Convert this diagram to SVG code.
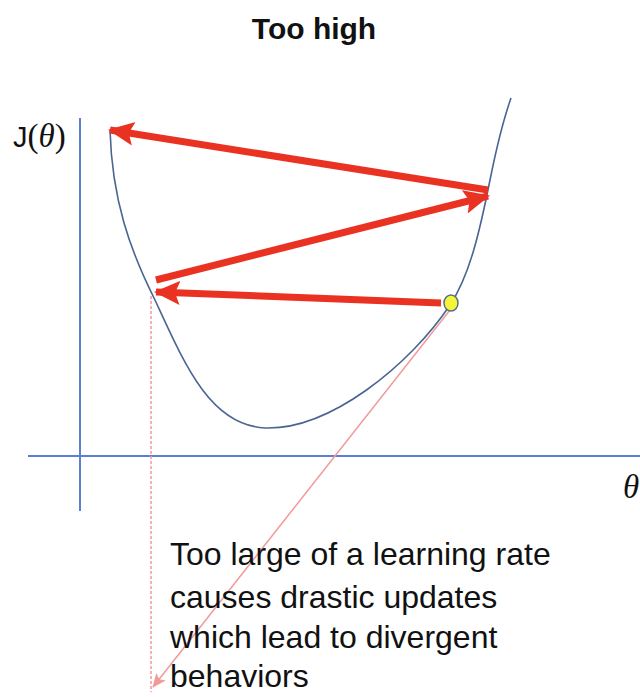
<svg xmlns="http://www.w3.org/2000/svg" width="640" height="697" viewBox="0 0 640 697">
<style>
.axis{stroke:#5B80D2;stroke-width:2;fill:none}
.curve{stroke:#4A6594;stroke-width:1.6;fill:none}
.step{stroke:#EA3223;stroke-width:7;fill:none}
.note{stroke:#F29A9A;stroke-width:1.5;fill:none}
.txt{font-family:"Liberation Sans",Arial,sans-serif;fill:#111}
.math{font-family:"Liberation Serif","DejaVu Serif",serif;fill:#111}
</style>
<defs>
<marker id="redHead" markerUnits="userSpaceOnUse" markerWidth="26" markerHeight="26" viewBox="0 0 26 26" refX="24" refY="13" orient="auto">
<path d="M0,1 L26,13 L0,25 L5,13 Z" fill="#EA3223"/>
</marker>
<marker id="pinkHead" markerUnits="userSpaceOnUse" markerWidth="14" markerHeight="14" viewBox="0 0 14 14" refX="13" refY="7" orient="auto">
<path d="M0,1 L14,7 L0,13 L3,7 Z" fill="#F29A9A"/>
</marker>
</defs>
<rect width="640" height="697" fill="#fff"/>
<g id="title"><text class="txt" x="314" y="39" font-size="30" font-weight="bold" text-anchor="middle">Too high</text></g>
<g id="axes">
<line class="axis" x1="80" y1="118" x2="80" y2="511"/>
<line class="axis" x1="28" y1="456" x2="640" y2="456"/>
</g>
<g id="y-label"><text x="13" y="147" font-size="33"><tspan class="txt" font-size="29">J</tspan><tspan class="math">(</tspan><tspan class="math" font-style="italic">θ</tspan><tspan class="math">)</tspan></text></g>
<g id="x-label"><text class="math" x="623" y="498" font-size="33" font-style="italic">θ</text></g>
<g id="cost-curve"><path class="curve" d="M110,130 C112,200 130,250 155,300 C185,365 210,425 265,428 C330,430 410,365 450,305 C470,275 480,230 490,180 C498,140 505,115 511,98"/></g>
<g id="connectors">
<line class="step" x1="488" y1="190" x2="110" y2="130" marker-end="url(#redHead)"/>
<line class="step" x1="156" y1="280" x2="488" y2="196" marker-end="url(#redHead)"/>
<line class="step" x1="441" y1="303" x2="156" y2="292" marker-end="url(#redHead)"/>
<line class="note" x1="151" y1="296" x2="151" y2="692" stroke-dasharray="3,2"/>
<line class="note" x1="450" y1="310" x2="153" y2="687" marker-end="url(#pinkHead)"/>
</g>
<g id="start-point"><ellipse cx="451" cy="303" rx="7" ry="8" fill="#F5F53A" stroke="#5A6E8C" stroke-width="1.5"/></g>
<g id="note-text"><text class="txt" font-size="32">
<tspan x="170" y="565">Too large of a learning rate</tspan>
<tspan x="170" y="608">causes drastic updates</tspan>
<tspan x="170" y="648">which lead to divergent</tspan>
<tspan x="170" y="687">behaviors</tspan>
</text></g>
</svg>
